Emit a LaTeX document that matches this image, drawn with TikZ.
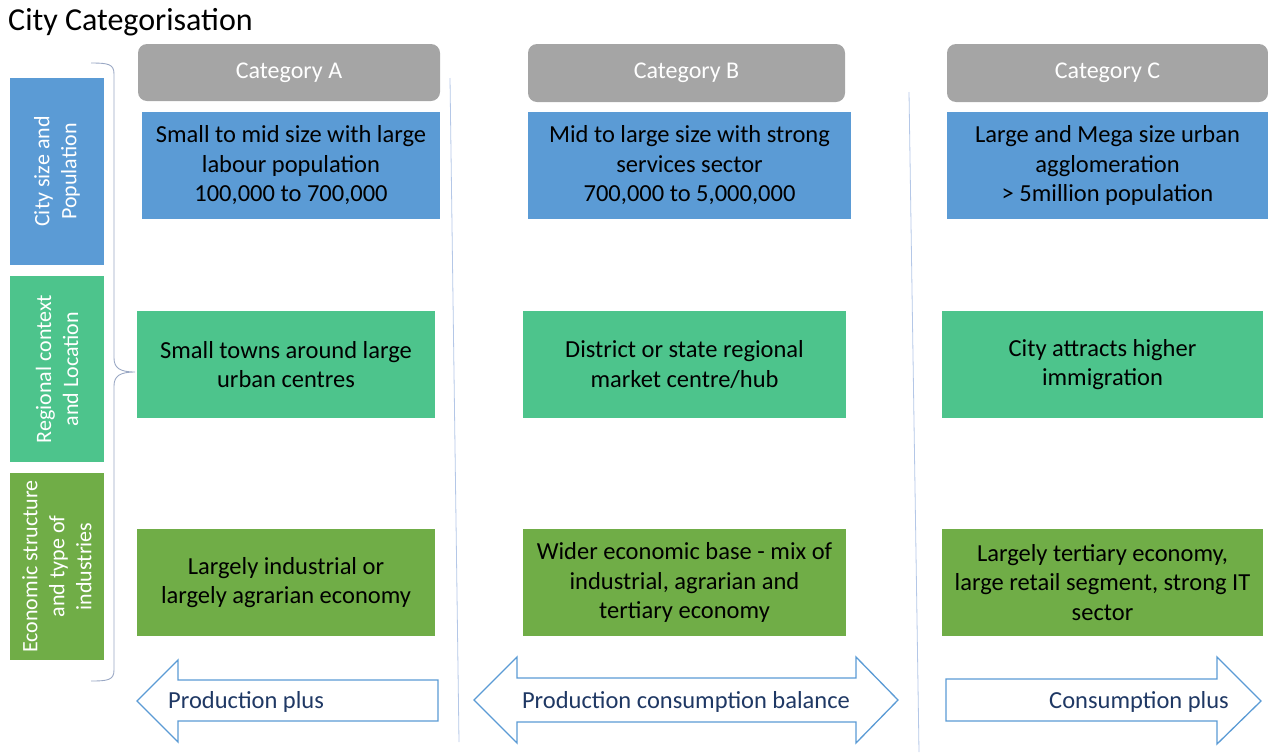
\documentclass[tikz,border=0pt]{standalone}
\usepackage{fontspec}
\setmainfont{Carlito}
\definecolor{hdr}{HTML}{A5A5A5}
\definecolor{rowblue}{HTML}{5B9BD5}
\definecolor{rowgreen}{HTML}{4DC48C}
\definecolor{rowolive}{HTML}{70AD47}
\definecolor{arrowline}{HTML}{5B9BD5}
\definecolor{arrowtext}{HTML}{1F3864}
\definecolor{divider}{HTML}{B4C7E7}
\definecolor{bracecol}{HTML}{9AA8C4}
\tikzset{
  cell/.style={inner sep=0pt, outer sep=0pt, align=center, text=black,
    font=\fontsize{24.5}{29.5}\selectfont},
  rowA/.style={cell, fill=rowblue},
  rowB/.style={cell, fill=rowgreen},
  rowC/.style={cell, fill=rowolive},
  hdrbox/.style={inner sep=0pt, outer sep=0pt, fill=hdr, rounded corners=9pt, text=white,
    font=\fontsize{24}{28}\selectfont},
  sidebox/.style={inner sep=0pt, outer sep=0pt, rotate=90, align=center, text=white,
    minimum height=94pt, font=\fontsize{22}{27}\selectfont},
  arrowshape/.style={draw=arrowline, line width=1.3pt, fill=white, line join=miter},
  arrowlabel/.style={text=arrowtext, font=\fontsize{24.5}{28}\selectfont, inner sep=0pt},
  divline/.style={draw=divider, line width=0.8pt},
  bracelin/.style={draw=bracecol, line width=0.9pt}
}
\begin{document}
\begin{tikzpicture}[x=1pt,y=-1pt]
\useasboundingbox (0,0) rectangle (1268,753);
% title
\node[anchor=base west, inner sep=0pt, font=\fontsize{32}{36}\selectfont] (title) at (8,30) {City Categorisation};
% dividers
\coordinate (d1t) at (450,78); \coordinate (d1b) at (459,742);
\coordinate (d2t) at (909,92); \coordinate (d2b) at (919,752);
\draw[divline] (d1t) -- (d1b);
\draw[divline] (d2t) -- (d2b);
% side labels
\node[sidebox, fill=rowblue, minimum width=187pt] (s1) at (57,171.5) {City size and\\Population};
\node[sidebox, fill=rowgreen, minimum width=186pt] (s2) at (57,369) {Regional context\\and Location};
\node[sidebox, fill=rowolive, minimum width=187pt] (s3) at (57,566.5) {Economic structure\\and type of\\industries};
% brace
\coordinate (bt) at (91,63); \coordinate (bm) at (135,372); \coordinate (bb) at (91,681);
\draw[bracelin] (bt) .. controls (108,63) and (114,64) .. (114,74) -- (114,358)
  .. controls (114,368) and (120,372) .. (bm)
  .. controls (120,372) and (114,376) .. (114,386) -- (114,670)
  .. controls (114,680) and (108,681) .. (bb);
% headers
\node[hdrbox, minimum width=302pt, minimum height=57pt] (hA) at (289,72.5) {Category A};
\node[hdrbox, minimum width=317pt, minimum height=58pt] (hB) at (686.5,73) {Category B};
\node[hdrbox, minimum width=321pt, minimum height=58pt] (hC) at (1107.5,73) {Category C};
% row 1
\node[rowA, minimum width=298pt, minimum height=107pt] (a1) at (291,165.5) {Small to mid size with large\\labour population\\100,000 to 700,000};
\node[rowA, minimum width=323pt, minimum height=107pt] (b1) at (689.5,165.5) {Mid to large size with strong\\services sector\\700,000 to 5,000,000};
\node[rowA, minimum width=321pt, minimum height=107pt] (c1) at (1107.5,165.5) {Large and Mega size urban\\agglomeration\\> 5million population};
% row 2
\node[rowB, minimum width=298pt, minimum height=107pt] (a2) at (286,364.5) {Small towns around large\\urban centres};
\node[rowB, minimum width=323pt, minimum height=107pt] (b2) at (684.5,364.5) {District or state regional\\market centre/hub};
\node[rowB, minimum width=321pt, minimum height=107pt] (c2) at (1102.5,364.5) {City attracts higher\\immigration};
% row 3
\node[rowC, minimum width=298pt, minimum height=107pt] (a3) at (286,582.5) {Largely industrial or\\largely agrarian economy};
\node[rowC, minimum width=323pt, minimum height=107pt] (b3) at (684.5,582.5) {Wider economic base - mix of\\industrial, agrarian and\\tertiary economy};
\node[rowC, minimum width=321pt, minimum height=107pt] (c3) at (1102.5,582.5) {Largely tertiary economy,\\large retail segment, strong IT\\sector};
% arrows
\draw[arrowshape] (137,701) -- (178,660) -- (178,680) -- (438,680) -- (438,721) -- (178,721) -- (178,742) -- cycle;
\node[arrowlabel, anchor=west] (pp) at (168,702) {Production plus};
\draw[arrowshape] (474,700) -- (517,657) -- (517,678) -- (856,678) -- (856,657) -- (898,700) -- (856,743) -- (856,722) -- (517,722) -- (517,743) -- cycle;
\node[arrowlabel] (pcb) at (686,702) {Production consumption balance};
\draw[arrowshape] (946,679) -- (1217,679) -- (1217,657) -- (1261,701) -- (1217,744) -- (1217,721) -- (946,721) -- cycle;
\node[arrowlabel, anchor=east] (cp) at (1229,702) {Consumption plus};
\end{tikzpicture}
\end{document}
